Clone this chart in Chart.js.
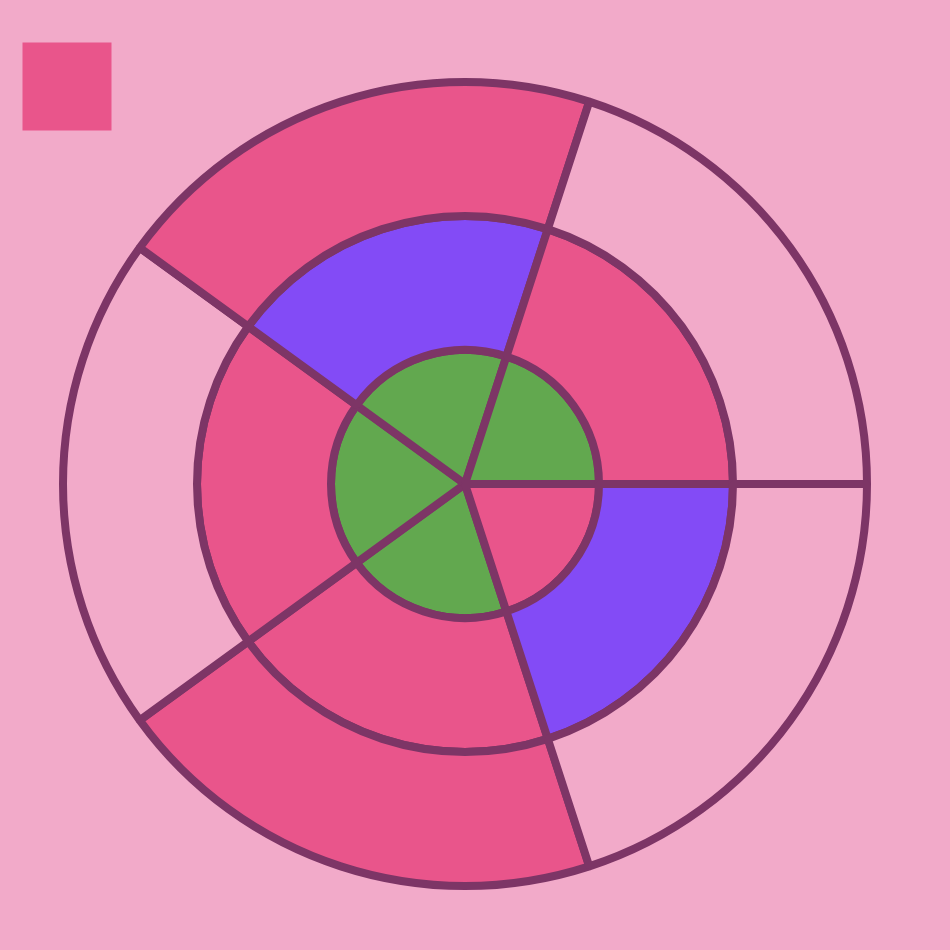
<!DOCTYPE html>
<html>
<head>
<meta charset="utf-8">
<script src="https://cdn.jsdelivr.net/npm/chart.js@4/dist/chart.umd.min.js"></script>
<style>
  html, body { margin: 0; padding: 0; background: #f2aac9; }
  #wrap { width: 950px; height: 950px; }
</style>
</head>
<body>
<div id="wrap"><canvas id="c" width="950" height="950"></canvas></div>
<script>
// ---- data ----
const categories = [''];
const outerValues  = [1, 1, 1, 1, 1];
const middleValues = [1, 1, 1, 1, 1];
const innerValues  = [1, 1, 1, 1, 1];

// ---- colours ----
const BG = '#f2aac9';
const HOT = '#e9558b';
const PURPLE = '#834bf6';
const GREEN = '#62a84f';
const EDGE = '#7d3566';

const outerColors  = [HOT, BG, HOT, BG, BG];
const middleColors = [HOT, HOT, PURPLE, HOT, PURPLE];
const innerColors  = [GREEN, GREEN, GREEN, GREEN, HOT];

new Chart(document.getElementById('c'), {
  type: 'pie',
  data: {
    labels: categories,
    datasets: [
      { data: outerValues,  backgroundColor: outerColors,  borderColor: EDGE, borderWidth: 8 },
      { data: middleValues, backgroundColor: middleColors, borderColor: EDGE, borderWidth: 8 },
      { data: innerValues,  backgroundColor: innerColors,  borderColor: EDGE, borderWidth: 8 }
    ]
  },
  options: {
    responsive: false,
    animation: false,
    rotation: 162,
    radius: 402,
    layout: { padding: { left: 12, right: 32, top: 32, bottom: 123 } },
    plugins: {
      tooltip: { enabled: false },
      legend: {
        display: true,
        position: 'top',
        align: 'start',
        labels: {
          padding: 10,
          boxWidth: 90,
          boxHeight: 89,
          generateLabels: (chart) => chart.data.labels.map((text, i) => ({
            text: text,
            fillStyle: chart.data.datasets[0].backgroundColor[i],
            strokeStyle: BG,
            lineWidth: 1,
            hidden: false,
            index: i,
            datasetIndex: 0
          }))
        }
      }
    }
  }
});
</script>
</body>
</html>
